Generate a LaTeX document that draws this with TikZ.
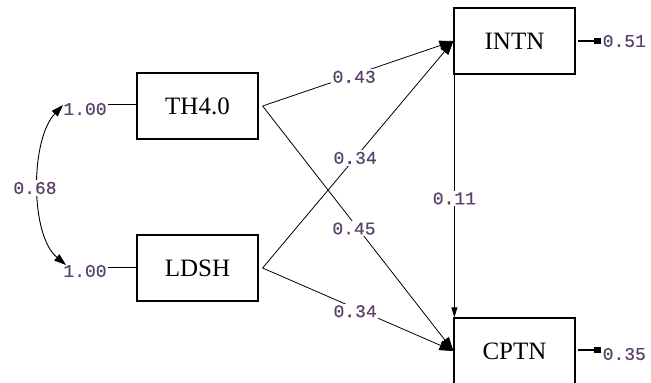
\documentclass[tikz,border=0pt]{standalone}
\usepackage{fontspec}
\setmainfont{Liberation Serif}
\newfontfamily\numfont[FakeBold=0.6]{Liberation Mono}
\usetikzlibrary{arrows.meta}
\definecolor{numcol}{RGB}{90,65,105}
\begin{document}
\begin{tikzpicture}[x=1pt,y=-1pt,
  var/.style={draw, line width=1.2pt, minimum width=121pt, minimum height=66pt, inner sep=0pt, font=\fontsize{25}{25}\selectfont},
  num/.style={font=\numfont\fontsize{18}{18}\selectfont, text=numcol, fill=white, inner sep=1.5pt},
  pathline/.style={line width=0.8pt, -{Triangle[length=14pt,width=10pt]}},
  vertline/.style={line width=1pt, -{Triangle[length=10pt,width=6pt]}},
  errline/.style={line width=2.6pt, {Rectangle[length=7pt,width=6pt]}-},
  varline/.style={line width=0.9pt},
  corrline/.style={line width=0.9pt, {Triangle[length=12pt,width=8pt]}-{Triangle[length=12pt,width=8pt]}}
  ]
\useasboundingbox (0,0) rectangle (651,383);
\node[var] (th) at (197.5,106) {TH4.0};
\node[var] (ld) at (197.5,268) {LDSH};
\node[var] (in) at (514.5,41) {INTN};
\node[var] (cp) at (514.5,351) {CPTN};

\coordinate (thout) at ([xshift=4pt]th.east);
\coordinate (ldout) at ([xshift=4pt]ld.east);

\draw[pathline] (thout) -- (in.west) node[num, pos=0.48, yshift=-2pt] {0.43};
\draw[pathline] (ldout) -- (in.west) node[num, pos=0.485] {0.34};
\draw[pathline] (thout) -- (cp.west) node[num, pos=0.50, xshift=-4pt] {0.45};
\draw[pathline] (ldout) -- (cp.west) node[num, pos=0.485, yshift=-3pt] {0.34};

\draw[vertline] ([xshift=1pt]in.south west) -- ([xshift=1pt]cp.north west) node[num, pos=0.51] {0.11};

\node[num, fill=none, anchor=west] (e1) at (601,41) {0.51};
\node[num, fill=none, anchor=west] (e2) at (601,354) {0.35};
\draw[errline] (e1.west) -- ([xshift=2pt]in.east);
\draw[errline] ([yshift=4pt]e2.west) -- ([xshift=2pt,yshift=1pt]cp.east);

\node[num] (v1) at (85,109) {1.00};
\node[num] (v2) at (85,271) {1.00};
\draw[varline] ([yshift=5pt]v1.east) -- ([yshift=2pt]th.west);
\draw[varline] ([yshift=4pt]v2.east) -- ([yshift=1pt]ld.west);

\coordinate (c1) at (63,105);
\coordinate (c2) at (66,265);
\draw[corrline] (c1) .. controls (30,140) and (30,235) .. (c2);
\node[num] (r) at (35,188) {0.68};
\end{tikzpicture}
\end{document}
